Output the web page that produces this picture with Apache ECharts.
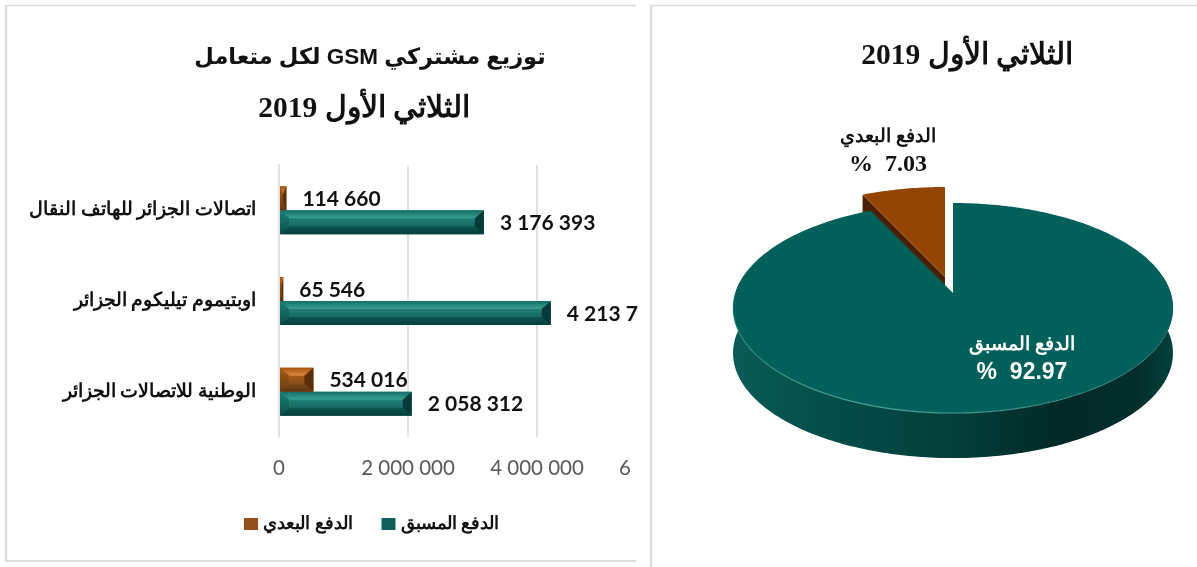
<!DOCTYPE html>
<html><head><meta charset="utf-8">
<style>html,body{margin:0;padding:0;background:#fff}#c{width:1197px;height:567px}</style>
<script src="https://cdn.jsdelivr.net/npm/echarts@6/dist/echarts.min.js"></script>
</head><body><div id="c"></div>
<script>
const categories = ['اتصالات الجزائر للهاتف النقال','اوبتيموم تيليكوم الجزائر','الوطنية للاتصالات الجزائر'];
const prepaid = [3176393, 4213700, 2058312];
const postpaid = [114660, 65546, 534016];
const prepaidLabels = ['3 176 393','4 213 7','2 058 312'];
const postpaidLabels = ['114 660','65 546','534 016'];
const xTicks = {0:'0',2000000:'2 000 000',4000000:'4 000 000',6000000:'{six|6}'};
const prepaidName = 'الدفع المسبق';
const postpaidName = 'الدفع البعدي';
const pieNames = [postpaidName, prepaidName];
const pieValues = [7.03, 92.97];
const pieLabels = ['%  7.03','%  92.97'];
const titleLeft1 = '\u202Bتوزيع مشتركي GSM لكل متعامل\u202C';
const titleYear = '\u202Bالثلاثي الأول 2019\u202C';

const SERIF = '"Liberation Serif","DejaVu Serif",serif';
const SANS = '"Liberation Sans","DejaVu Sans",sans-serif';
const NUM = 'Lato,"Open Sans",sans-serif';

const vgrad = (a,b) => ({type:'linear',x:0,y:0,x2:0,y2:1,colorStops:[{offset:0,color:a},{offset:1,color:b}]});
const tealTheme = {top:vgrad('#126e67','#3a9f92'),mid:vgrad('#2d8f84','#0c5a55'),bot:vgrad('#0c5550','#04403c'),left:vgrad('#1c7f76','#0a4f4a'),right:'#063a38'};
const brownTheme = {top:vgrad('#a55210','#dc8a3e'),mid:vgrad('#b5651f','#7a4312'),bot:vgrad('#7e4a1c','#5c3410'),left:vgrad('#a55a18','#6a3a10'),right:'#5a2e08'};

function bevelBar(x,y,w,h,t){
  const b=Math.min(9,w/2), v=Math.min(8,h/3);
  const poly=(pts,fill)=>({type:'polygon',shape:{points:pts},style:{fill}});
  return [
    {type:'rect',shape:{x,y,width:w,height:h},style:{fill:t.mid}},
    poly([[x,y],[x+w,y],[x+w-b,y+v],[x+b,y+v]],t.top),
    poly([[x,y+h],[x+w,y+h],[x+w-b,y+h-v],[x+b,y+h-v]],t.bot),
    poly([[x,y],[x+b,y+v],[x+b,y+h-v],[x,y+h]],t.left),
    poly([[x+w,y],[x+w-b,y+v],[x+w-b,y+h-v],[x+w,y+h]],t.right)
  ];
}
function barSeries(name,values,labels,theme,offset,legendColor){
  return {
    type:'custom',name,coordinateSystem:'cartesian2d',
    encode:{x:0,y:1},
    itemStyle:{color:legendColor},
    data:values.map((v,i)=>[v,i]),
    renderItem(params,api){
      const i=api.value(1), p0=api.coord([0,i]), p1=api.coord([api.value(0),i]);
      const h=24, y=p0[1]+(offset<0?-h:0);
      const els=bevelBar(p0[0]+1,y,p1[0]-p0[0]-1,h,theme);
      els.push({type:'text',style:{text:labels[params.dataIndex],x:p1[0]+16,y:y+h/2+1,
        verticalAlign:'middle',align:'left',fill:'#111',font:'bold 21px '+NUM}});
      return {type:'group',children:els};
    }
  };
}

/* tilted disc: a plan-view angle is projected with a simple perspective */
const cx=953, cy=293, rx=217.7, b=102.9, k=0.143, wallH=45;
const proj=(deg,ox,oy)=>{const t=deg*Math.PI/180,u=Math.sin(t),v=-Math.cos(t),d=1-k*v;
  return [cx+rx*u/d+(ox||0),cy+b*v/d+(oy||0)];};
const arc=(a0,a1,ox,oy)=>{const n=Math.max(2,Math.ceil(Math.abs(a1-a0)));const r=[];
  for(let i=0;i<=n;i++)r.push(proj(a0+(a1-a0)*i/n,ox,oy));return r;};
const total=pieValues.reduce((s,v)=>s+v,0);

const pieSeries={
  type:'custom',name:'pie',coordinateSystem:'none',silent:true,
  data:pieValues.map(v=>[v]),
  renderItem(params,api){
    const i=params.dataIndex, share=api.value(0)/total*360;
    const children=[];
    if(i===0){ // exploded small slice, ends at 12 o'clock
      const ox=-8, oy=-16, a0=-share, a1=0;
      const left=proj(a0,ox,oy), apex=[cx+ox,cy+oy];
      children.push({type:'polygon',shape:{points:[left,apex,[apex[0],apex[1]+wallH],[left[0],left[1]+wallH]]},style:{fill:'#4a2203'}});
      children.push({type:'polygon',shape:{points:[apex].concat(arc(a0,a1,ox,oy))},style:{fill:'#934604'}});
      children.push({type:'text',style:{text:pieNames[i],x:888,y:137,align:'center',verticalAlign:'middle',fill:'#111',font:'bold 18.5px '+SERIF}});
      children.push({type:'text',style:{text:pieLabels[i],x:888,y:165,align:'center',verticalAlign:'middle',fill:'#111',font:'bold 24px '+SERIF}});
    } else {
      const a0=0,a1=share;
      const rim=arc(80,280);
      const bottom=rim.slice().reverse().map(p=>[p[0],p[1]+wallH]);
      children.push({type:'polygon',shape:{points:rim.concat(bottom)},style:{fill:{type:'linear',x:0,y:0,x2:1,y2:0,colorStops:[
        {offset:0,color:'#0a5c56'},{offset:.2,color:'#044e49'},{offset:.5,color:'#033f3b'},{offset:.75,color:'#012825'},{offset:.92,color:'#022f2c'},{offset:1,color:'#03403c'}]}}});
      children.push({type:'polygon',shape:{points:[[cx,cy]].concat(arc(a0,a1))},style:{fill:'#01605a'}});
      children.push({type:'polyline',shape:{points:arc(110,268)},style:{fill:null,lineWidth:1.5,stroke:{type:'linear',x:0,y:0,x2:1,y2:0,colorStops:[
        {offset:0,color:'rgba(70,160,150,.25)'},{offset:.3,color:'rgba(70,160,150,.85)'},{offset:.6,color:'rgba(70,160,150,.6)'},{offset:1,color:'rgba(70,160,150,0)'}]}}});
      children.push({type:'text',style:{text:pieNames[i],x:1022,y:345,align:'center',verticalAlign:'middle',fill:'#fff',font:'bold 18.5px '+SERIF}});
      children.push({type:'text',style:{text:pieLabels[i],x:1022,y:373,align:'center',verticalAlign:'middle',fill:'#fff',font:'bold 23px '+SANS}});
    }
    return {type:'group',children};
  }
};

const line=(x1,y1,x2,y2,w)=>({type:'line',silent:true,shape:{x1,y1,x2,y2},style:{stroke:'#dcdcdc',lineWidth:w}});

const chart=echarts.init(document.getElementById('c'),null,{renderer:'canvas'});
chart.setOption({
  animation:false,backgroundColor:'#fff',
  title:[
    {text:titleLeft1,left:365,top:41,textAlign:'center',textStyle:{fontFamily:SANS,fontWeight:'bold',fontSize:22.5,color:'#111'}},
    {text:titleYear,left:359,top:89,textAlign:'center',textStyle:{fontFamily:SERIF,fontWeight:'bold',fontSize:29.5,color:'#111'}},
    {text:titleYear,left:962,top:36,textAlign:'center',textStyle:{fontFamily:SERIF,fontWeight:'bold',fontSize:29.5,color:'#111'}}
  ],
  grid:{left:279,top:165,width:387,height:272,containLabel:false},
  xAxis:{type:'value',position:'bottom',min:0,max:6000000,interval:2000000,
    axisLine:{show:false},axisTick:{show:false},
    splitLine:{show:true,showMinLine:false,showMaxLine:false,lineStyle:{color:'#d9d9d9',width:1.5}},
    axisLabel:{margin:21,color:'#595959',fontFamily:NUM,fontSize:20.5,hideOverlap:false,showMaxLabel:true,showMinLabel:true,
      formatter:v=>xTicks[v],rich:{six:{color:'#595959',fontFamily:NUM,fontSize:20.5,padding:[0,82,0,0]}}}},
  yAxis:{type:'category',inverse:true,data:categories,
    axisLine:{show:true,lineStyle:{color:'#d9d9d9',width:1.5}},axisTick:{show:false},
    axisLabel:{margin:23,color:'#111',fontFamily:SERIF,fontWeight:'bold',fontSize:18.8}},
  legend:{left:239,top:510,icon:'rect',itemWidth:14,itemHeight:12,itemGap:29,data:[postpaidName,prepaidName],
    textStyle:{color:'#111',fontFamily:SERIF,fontWeight:'bold',fontSize:18}},
  series:[
    barSeries(prepaidName,prepaid,prepaidLabels,tealTheme,1,'#0f5f5a'),
    barSeries(postpaidName,postpaid,postpaidLabels,brownTheme,-1,'#93501a'),
    pieSeries
  ],
  graphic:{elements:[
    line(5,5.5,636,5.5,1.5),line(6,5,6,561,2.5),line(5,561,636,561,2),
    line(651,5,651,567,2.5),line(650,5.5,1197,5.5,1.5)
  ]}
});
</script></body></html>
